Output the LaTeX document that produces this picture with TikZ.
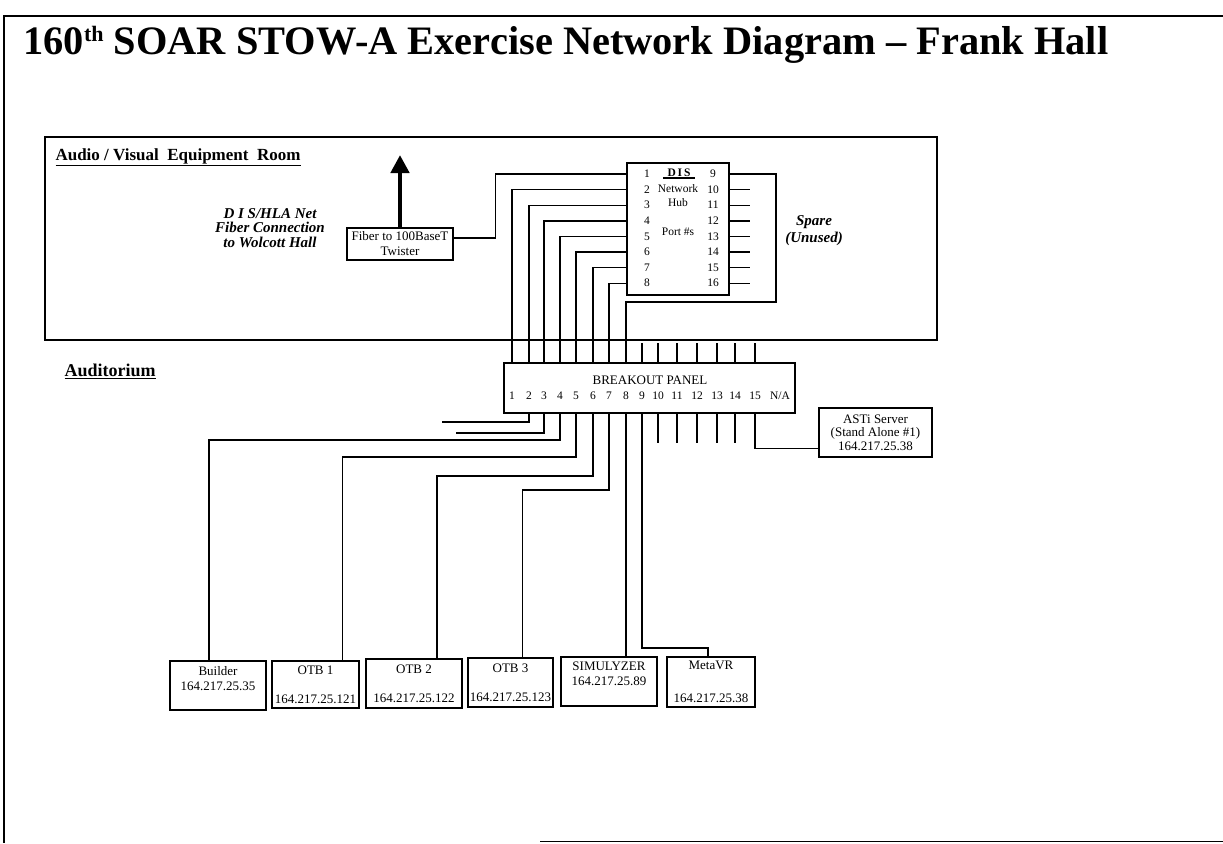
\documentclass[tikz,border=0pt]{standalone}
\usepackage{fontspec}
\setmainfont{Liberation Serif}
\usepackage{tikz}
\usetikzlibrary{arrows.meta}

\newcommand{\titlefont}{\fontsize{40.4}{44}\selectfont\bfseries}
\newcommand{\roomfont}{\fontsize{17}{20}\selectfont\bfseries}
\newcommand{\notefont}{\fontsize{15}{14.5}\selectfont\bfseries\itshape}
\newcommand{\boxfont}{\fontsize{13}{15}\selectfont}
\newcommand{\portfont}{\fontsize{11.5}{14}\selectfont}

\tikzset{
  wire/.style={line width=1.4pt},
  unit/.style={draw, line width=1.3pt, align=center, inner sep=1pt, font=\boxfont},
}

\begin{document}
\begin{tikzpicture}[x=1pt,y=-1pt]
\useasboundingbox (0,0) rectangle (1223,843);
\draw[line width=1.5pt] (1223,16) -- (4,16) -- (4,843);
\draw[line width=1.5pt] (540,841.5) -- (1223,841.5);
\node[anchor=base west, font=\titlefont] (title) at (20,55) {160\raisebox{13pt}{\fontsize{22}{22}\selectfont th} SOAR STOW-A Exercise Network Diagram – Frank Hall};

\draw[line width=1.5pt] (45,137) rectangle (937,340);
\node[anchor=west, font=\roomfont] (avroom) at (52,157) {\underline{Audio / Visual\ \ Equipment\ \ Room}};
\node[anchor=west, font=\fontsize{18}{20}\selectfont\bfseries] (auditorium) at (61,371) {\underline{Auditorium}};
\node[font=\notefont, align=center] (fibernote) at (270,228) {D I S/HLA Net\\Fiber Connection\\to Wolcott Hall};
\node[font=\notefont, align=center, text depth=0pt] (spare) at (814,229) {Spare\\[3pt](Unused)};

\node[unit, minimum width=106, minimum height=32] (fiber) at (400,244) {Fiber to 100BaseT\\Twister};
\coordinate (wolcott) at (400,155);
\draw[line width=4.5pt, -{Triangle[length=18pt,width=18pt]}] (fiber.north) -- (wolcott);

\node[draw, line width=1.3pt, minimum width=102, minimum height=132] (hub) at (678,229) {};
\node[font=\portfont\bfseries, inner sep=1pt] (dis) at (679,173) {D\,I\,S};
\draw[line width=1.6pt] ([xshift=-3pt]dis.south west) -- ([xshift=3pt]dis.south east);
\node[font=\portfont, align=center] (hubname) at (678,196) {Network\\Hub};
\node[font=\portfont] (portnums) at (678,232) {Port \#s};
\foreach \k in {1,...,8} {
  \node[font=\portfont] (hl\k) at (647,{174+15.6*(\k-1)}) {\k};
  \coordinate (L\k) at (627,{174+15.6*(\k-1)});
}
\foreach \k in {9,...,16} {
  \node[font=\portfont] (hr\k) at (713,{174+15.6*(\k-9)}) {\k};
  \coordinate (R\k) at (729,{174+15.6*(\k-9)});
}

\node[draw, line width=1.3pt, minimum width=291, minimum height=50] (panel) at (649.5,388) {};
\node[font=\boxfont] (paneltitle) at (650,380) {BREAKOUT PANEL};
\foreach \n/\x in {1/512,2/529,3/544,4/560,5/576,6/593,7/609,8/626,9/642,10/658,11/677,12/697,13/717,14/735,15/755} {
  \node[font=\portfont] (pn\n) at (\x,396) {\n};
  \coordinate (T\n) at (\x,363);
  \coordinate (B\n) at (\x,413);
}
\node[font=\portfont] (pnna) at (780,396) {N/A};

\node[unit, minimum width=96, minimum height=49] (builder) at (218,685.5) {Builder\\164.217.25.35\\\mbox{}};
\node[unit, minimum width=87, minimum height=47] (otb1) at (315.5,684.5) {OTB 1\\[14pt]164.217.25.121};
\node[unit, minimum width=96, minimum height=49] (otb2) at (414,683.5) {OTB 2\\[14pt]164.217.25.122};
\node[unit, minimum width=85, minimum height=49] (otb3) at (510.5,682.5) {OTB 3\\[14pt]164.217.25.123};
\node[unit, minimum width=96, minimum height=49] (simulyzer) at (609,681.5) {SIMULYZER\\164.217.25.89\\\mbox{}};
\node[unit, minimum width=88, minimum height=50] (metavr) at (711,682) {MetaVR\\[18pt]164.217.25.38};
\node[unit, minimum width=113, minimum height=49, font=\fontsize{13}{13.5}\selectfont] (asti) at (875.5,432.5) {ASTi Server\\(Stand Alone \#1)\\164.217.25.38};

\draw[wire] ([yshift=6pt]fiber.east) -- ++(42,0) |- (L1);
\foreach \k [evaluate=\k as \p using int(\k-1)] in {2,...,8}
  \draw[wire] (L\k) -| (T\p);
\draw[wire] (R9) -| (776,302) -| (T8);
\foreach \k in {10,...,16}
  \draw[wire] (R\k) -- ++(21,0);
\foreach \n in {9,...,15}
  \draw[wire] (T\n) -- ++(0,-20);

\draw[wire] (B2) |- ++(-87,9);
\draw[wire] (B3) |- ++(-88,20);
\draw[wire] (B4) -- ++(0,27) -| ([xshift=-9pt]builder.north);
\draw[wire] (B5) -- ++(0,44) -| ([xshift=27pt]otb1.north);
\draw[wire] (B6) -- ++(0,63) -| ([xshift=23pt]otb2.north);
\draw[wire] (B7) -- ++(0,77) -| ([xshift=12pt]otb3.north);
\draw[wire] (B8) -- (B8 |- simulyzer.north);
\draw[wire] (B9) -- ++(0,235) -| ([xshift=-3pt]metavr.north);
\foreach \n in {10,...,14}
  \draw[wire] (B\n) -- ++(0,30);
\draw[wire] (B15) |- ([yshift=-16pt]asti.west);
\end{tikzpicture}
\end{document}
